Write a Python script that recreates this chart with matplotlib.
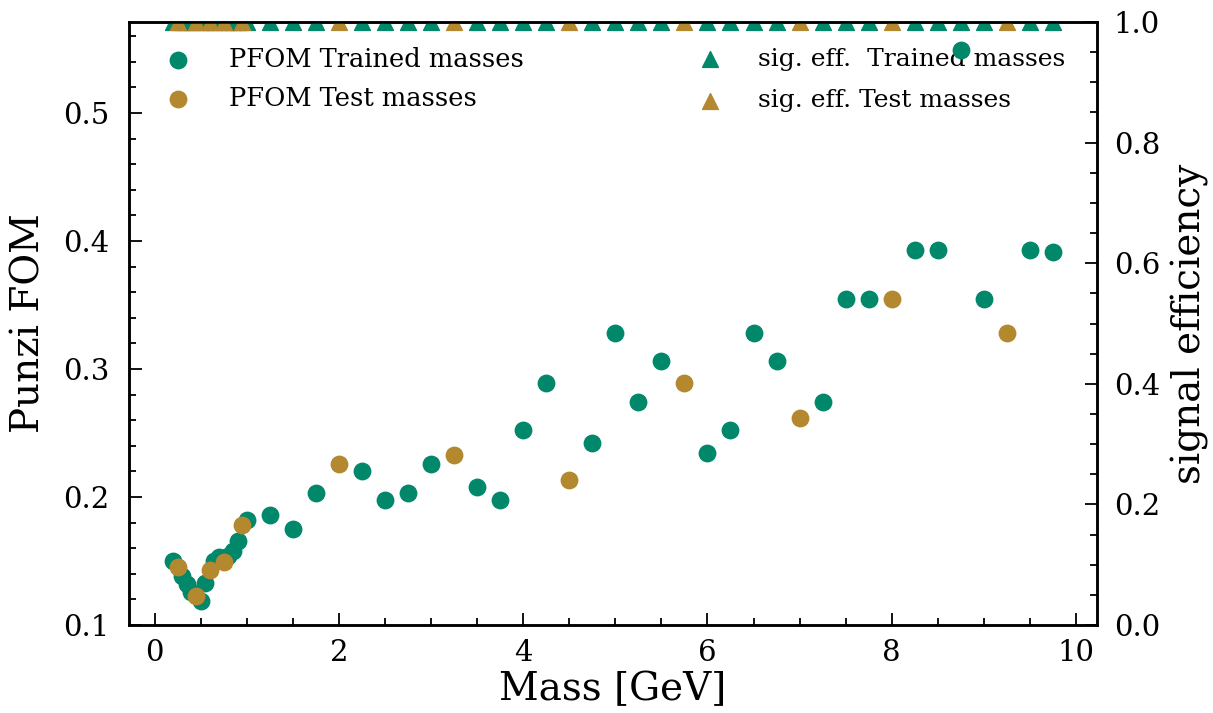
import matplotlib
matplotlib.use("Agg")
import matplotlib.pyplot as plt
from matplotlib.ticker import MultipleLocator

plt.rcParams['font.family'] = ['DejaVu Serif']

# ---- data ----
trained_mass = [0.2, 0.3, 0.35, 0.4, 0.5, 0.55, 0.65, 0.7, 0.8, 0.85, 0.9, 1.0,
                1.25, 1.5, 1.75, 2.25, 2.5, 2.75, 3.0, 3.5, 3.75, 4.0, 4.25, 4.75,
                5.0, 5.25, 5.5, 6.0, 6.25, 6.5, 6.75, 7.25, 7.5, 7.75, 8.25, 8.5,
                8.75, 9.0, 9.5, 9.75]
trained_pfom = [0.150, 0.138, 0.132, 0.126, 0.119, 0.133, 0.150, 0.153, 0.154, 0.158,
                0.166, 0.182, 0.186, 0.175, 0.203, 0.220, 0.198, 0.203, 0.226, 0.208,
                0.198, 0.252, 0.289, 0.242, 0.328, 0.274, 0.306, 0.234, 0.252, 0.328,
                0.306, 0.274, 0.355, 0.355, 0.393, 0.393, 0.549, 0.355, 0.393, 0.391]
trained_sigeff = [1.0] * len(trained_mass)

test_mass = [0.25, 0.45, 0.6, 0.75, 0.95, 2.0, 3.25, 4.5, 5.75, 7.0, 8.0, 9.25]
test_pfom = [0.145, 0.123, 0.143, 0.149, 0.178, 0.226, 0.233, 0.213, 0.289, 0.262,
             0.355, 0.328]
test_sigeff = [1.0] * len(test_mass)

green = '#01886b'
gold = '#b3882f'

fig = plt.figure(figsize=(12.13, 7.13), dpi=100)
ax = fig.add_axes([129/1213, 1 - 625/713, (1097-129)/1213, (625-22)/713])
ax2 = ax.twinx()
ax.set_zorder(ax2.get_zorder() + 1)
ax.patch.set_visible(False)

s1 = ax.scatter(trained_mass, trained_pfom, s=140, color=green, label='PFOM Trained masses', zorder=3)
s2 = ax.scatter(test_mass, test_pfom, s=140, color=gold, label='PFOM Test masses', zorder=3)
t1 = ax2.scatter(trained_mass, trained_sigeff, s=130, marker='^', color=green,
                 label='sig. eff.  Trained masses', zorder=3)
t2 = ax2.scatter(test_mass, test_sigeff, s=130, marker='^', color=gold,
                 label='sig. eff. Test masses', zorder=3)

ax.set_ylim(0.1, 0.571)
ax2.set_ylim(0.0, 1.0)
ax.margins(x=0.05)

ax.set_xlabel('Mass [GeV]', fontsize=28, labelpad=3)
ax.set_ylabel('Punzi FOM', fontsize=28, labelpad=11)
ax2.set_ylabel('signal efficiency', fontsize=28, labelpad=8)

ax.xaxis.set_major_locator(MultipleLocator(2))
ax.xaxis.set_minor_locator(MultipleLocator(0.5))
ax.yaxis.set_major_locator(MultipleLocator(0.1))
ax.yaxis.set_minor_locator(MultipleLocator(0.02))
ax2.yaxis.set_major_locator(MultipleLocator(0.2))
ax2.yaxis.set_minor_locator(MultipleLocator(0.05))

for a in (ax, ax2):
    a.tick_params(which='both', direction='in', labelsize=21, width=1.3)
    a.tick_params(which='major', length=9)
    a.tick_params(which='minor', length=5)
    for sp in a.spines.values():
        sp.set_linewidth(1.8)
ax.tick_params(axis='y', which='both', left=True, right=False, pad=14)
ax.tick_params(axis='x', which='both', top=False, pad=10)
ax2.tick_params(axis='y', which='both', right=True, left=False, pad=12)

ax.legend(handles=[s1, s2], loc='upper left', bbox_to_anchor=(0.0, 0.997),
          frameon=False, fontsize=18.5, handletextpad=1.0, labelspacing=0.55)
ax2.legend(handles=[t1, t2], loc='upper right', bbox_to_anchor=(0.99, 0.995),
           frameon=False, fontsize=18, handletextpad=0.9, labelspacing=0.75)

fig.savefig('out.png', dpi=100)
